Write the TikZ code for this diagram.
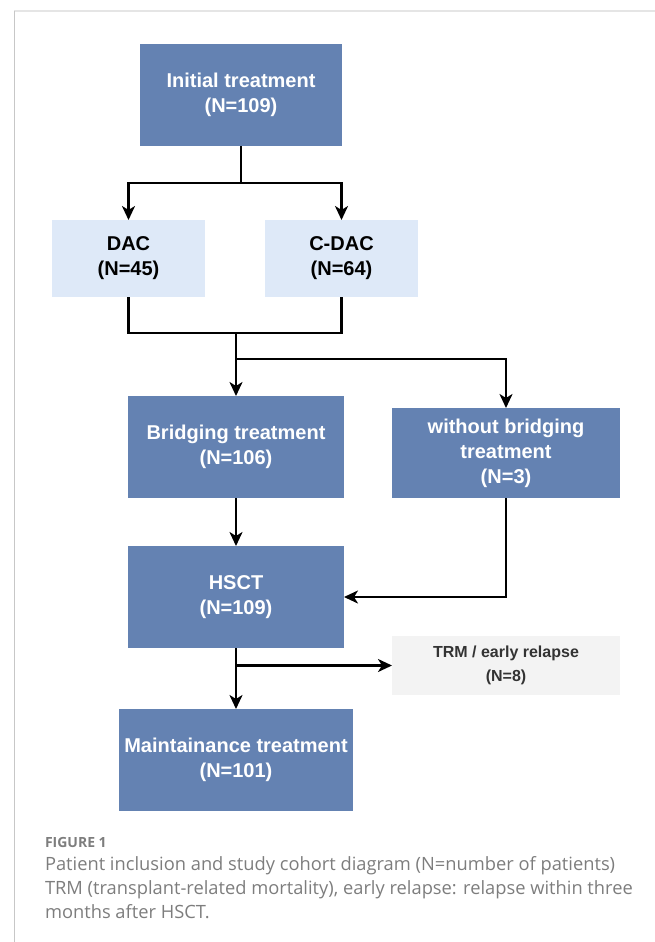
\documentclass[tikz,border=0pt]{standalone}
\usepackage{fontspec}
\setmainfont{Liberation Sans}
\newfontfamily\captionfont{Open Sans}
\usetikzlibrary{calc}
\usetikzlibrary{positioning}
\usetikzlibrary{arrows.meta}
\definecolor{boxdark}{RGB}{100,130,178}
\definecolor{boxlight}{RGB}{222,233,248}
\definecolor{boxgray}{RGB}{243,243,243}
\definecolor{captiongray}{RGB}{125,125,125}
\tikzset{node distance=48pt, % Gap between stacked boxes
  every node/.style={           align=center, inner sep=0pt, outer sep=0pt,
},
         stagebox/.style={ % Main stages of the cohort
           fill=boxdark, text=white,
           font=\bfseries\fontsize{20}{25}\selectfont},
         armbox/.style={   % Induction arms
           fill=boxlight, text=black,
           font=\bfseries\fontsize{20}{25}\selectfont},
         dropbox/.style={  % Patients leaving the cohort
           fill=boxgray, text=black!80,
           font=\bfseries\fontsize{16}{24}\selectfont},
         link/.style={     % Plain connector
           draw, line width=2.3pt},
         flow/.style={     % Connector with arrow head
           link, -{Stealth[length=14pt,width=13pt,inset=4pt]}}}

\begin{document}
\begin{tikzpicture}[x=1pt, y=-1pt]
  \useasboundingbox (0,0) rectangle (655,942);

  % frame
  \draw [line width=2pt, black!10] (14,11) -- (655,11);
  \draw [line width=1pt, black!22] (14,11) -- (14,942);

  \node [stagebox, minimum width=202, minimum height=102] (init) at (241,95) {Initial treatment\\(N=109)};
  \node [armbox, minimum width=153, minimum height=77] (dac) at (128.5,258.5) {DAC\\(N=45)};
  \node [armbox, minimum width=153, minimum height=77, right=60pt of dac] (cdac) {C-DAC\\(N=64)};
  \node [stagebox, minimum width=216, minimum height=102] (bridge) at (236,447) {Bridging treatment\\(N=106)};
  \node [stagebox, minimum width=228, minimum height=90] (nobridge) at (506,453) {without bridging\\treatment\\(N=3)};
  \node [stagebox, minimum width=216, minimum height=102, below=of bridge] (hsct) {HSCT\\(N=109)};
  \node [dropbox, minimum width=228, minimum height=59] (trm) at (506,665.5) {TRM / early relapse\\(N=8)};
  \node [stagebox, minimum width=234, minimum height=102, below=61pt of hsct] (maint) {Maintainance treatment\\(N=101)};

  \draw [link] (init.south) -- ++(0,37) coordinate (fork);
  \draw [flow] (fork) -| (dac.north);
  \draw [flow] (fork) -| (cdac.north);

  \draw [link] (dac.south) -- ++(0,36) -| (cdac.south);
  \coordinate (merge) at (bridge.north |- 0,333);
  \coordinate (split) at (bridge.north |- 0,359);
  \draw [flow] (merge) -- (bridge.north);
  \draw [flow] (split) -| (nobridge.north);

  \draw [flow] (bridge) -- (hsct);
  \draw [flow] (nobridge.south) |- (hsct.east);
  \draw [flow] (hsct) -- (maint);
  \draw [flow] (hsct.south |- trm.west) -- (trm.west);

  % caption
  \node [anchor=base west, text=captiongray, font=\captionfont\bfseries\fontsize{14}{16}\selectfont] (figlabel) at (45,847) {FIGURE 1};
  \node [anchor=base west, text=captiongray, font=\captionfont\fontsize{18.3}{24}\selectfont] (capline1) at (45,870) {Patient inclusion and study cohort diagram (N=number of patients)};
  \node [anchor=base west, text=captiongray, font=\captionfont\fontsize{18.3}{24}\selectfont] (capline2) at (45,894) {TRM (transplant-related mortality), early relapse: relapse within three};
  \node [anchor=base west, text=captiongray, font=\captionfont\fontsize{18.3}{24}\selectfont] (capline3) at (45,918) {months after HSCT.};
\end{tikzpicture}
\end{document}
